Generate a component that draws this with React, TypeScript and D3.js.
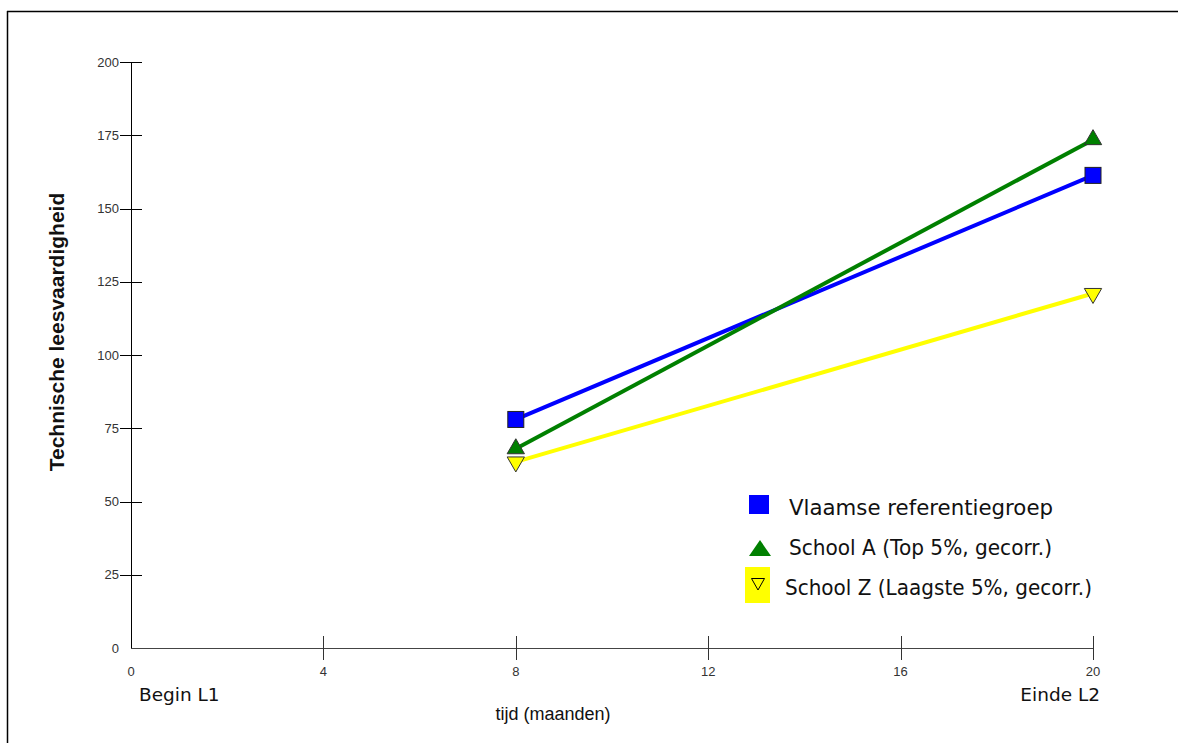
import React from "react";
import * as d3 from "d3";

const months = [8, 20];
const seriesNames = [
  "Vlaamse referentiegroep",
  "School A (Top 5%, gecorr.)",
  "School Z (Laagste 5%, gecorr.)",
];
const vlaamse = [78, 161.3];
const schoolA = [68, 173.5];
const schoolZ = [63.5, 121];
const xTicks = [0, 4, 8, 12, 16, 20];
const yTicks = [0, 25, 50, 75, 100, 125, 150, 175, 200];

const W = 1178;
const H = 743;

export default function App() {
  const x = d3.scaleLinear().domain([0, 20]).range([131, 1093]);
  const y = d3.scaleLinear().domain([0, 200]).range([648, 62]);
  const line = d3
    .line<number>()
    .x((_, i) => x(months[i]))
    .y((d) => y(d));

  const series = [
    { name: seriesNames[0], vals: vlaamse, color: "#0000ff", kind: "square" },
    { name: seriesNames[1], vals: schoolA, color: "#008000", kind: "up" },
    { name: seriesNames[2], vals: schoolZ, color: "#ffff00", kind: "down" },
  ];

  const tri = d3.symbol().type(d3.symbolTriangle).size(130)() as string;

  const marker = (kind: string, color: string, cx: number, cy: number, key: string) => {
    if (kind === "square") {
      return (
        <rect key={key} x={cx - 8} y={cy - 8} width={16} height={16} fill={color} stroke="#222" strokeWidth={1} />
      );
    }
    return (
      <path
        key={key}
        d={tri}
        transform={`translate(${cx},${cy})${kind === "down" ? " rotate(180)" : ""}`}
        fill={color}
        stroke="#333"
        strokeWidth={1}
      />
    );
  };

  const tickFont = "'Liberation Sans Narrow', 'Liberation Sans', Arial, sans-serif";
  const legendFont = "'DejaVu Sans', Verdana, sans-serif";

  return (
    <svg
      width={W}
      height={H}
      style={{ position: "absolute", left: 0, top: 0, background: "#fff" }}
    >
      <rect x={0} y={0} width={W} height={H} fill="#fff" />
      {/* frame */}
      <line x1={7} y1={11.5} x2={W} y2={11.5} stroke="#000" strokeWidth={1.5} />
      <line x1={7.5} y1={11} x2={7.5} y2={H} stroke="#000" strokeWidth={1.5} />

      {/* axes */}
      <line x1={131.5} y1={y(200)} x2={131.5} y2={y(0)} stroke="#000" strokeWidth={1} />
      <line x1={x(0)} y1={648.5} x2={x(20)} y2={648.5} stroke="#444" strokeWidth={1} />
      {yTicks.map((t) => (
        <g key={"y" + t}>
          {t !== 0 && (
            <line x1={120} x2={142} y1={Math.round(y(t)) + 0.5} y2={Math.round(y(t)) + 0.5} stroke="#000" />
          )}
          <text
            x={119}
            y={y(t)}
            dy="0.35em"
            textAnchor="end"
            fontFamily={tickFont}
            fontSize={13}
            fill="#333"
          >
            {t}
          </text>
        </g>
      ))}
      {xTicks.map((t) => (
        <g key={"x" + t}>
          {t !== 0 && (
            <line x1={Math.round(x(t)) + 0.5} x2={Math.round(x(t)) + 0.5} y1={636} y2={660} stroke="#333" />
          )}
          <text
            x={x(t)}
            y={676}
            textAnchor="middle"
            fontFamily={tickFont}
            fontSize={13}
            fill="#333"
          >
            {t}
          </text>
        </g>
      ))}

      {/* titles */}
      <text
        x={553}
        y={720}
        textAnchor="middle"
        fontFamily={tickFont}
        fontSize={18}
        fill="#111"
      >
        tijd (maanden)
      </text>
      <text
        transform={`translate(64,${332}) rotate(-90)`}
        textAnchor="middle"
        fontFamily="'Liberation Sans', Arial, sans-serif"
        fontWeight="bold"
        fontSize={21}
        fill="#111"
      >
        Technische leesvaardigheid
      </text>
      <text x={139} y={701} fontFamily={legendFont} fontSize={18.5} fill="#111">
        Begin L1
      </text>
      <text x={1100} y={701} textAnchor="end" fontFamily={legendFont} fontSize={18.5} fill="#111">
        Einde L2
      </text>

      {/* lines */}
      {series.map((s) => (
        <path key={"l" + s.name} d={line(s.vals) as string} fill="none" stroke={s.color} strokeWidth={4} />
      ))}
      {series.map((s) =>
        s.vals.map((v, i) => marker(s.kind, s.color, x(months[i]), y(v), s.name + i))
      )}

      {/* legend */}
      <rect x={749} y={495} width={20} height={19} fill="#0000ff" />
      <text x={789} y={515} fontFamily={legendFont} fontSize={21} fill="#111" textLength={264} lengthAdjust="spacingAndGlyphs">
        {seriesNames[0]}
      </text>
      <path d="M749,556 L760,540 L771,556 Z" fill="#008000" />
      <text x={789} y={555} fontFamily={legendFont} fontSize={21} fill="#111" textLength={263} lengthAdjust="spacingAndGlyphs">
        {seriesNames[1]}
      </text>
      <rect x={745} y={567} width={25} height={36} fill="#ffff00" />
      <path d="M751.5,578.5 L764.5,578.5 L758,590 Z" fill="none" stroke="#000" strokeWidth={1} />
      <text x={785} y={595} fontFamily={legendFont} fontSize={21} fill="#111" textLength={307} lengthAdjust="spacingAndGlyphs">
        {seriesNames[2]}
      </text>
    </svg>
  );
}
